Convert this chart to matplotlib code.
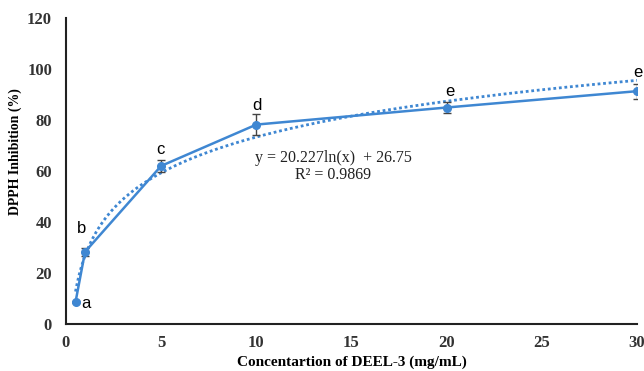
import numpy as np
import matplotlib
matplotlib.use("Agg")
import matplotlib.pyplot as plt

conc = [0.5, 1, 5, 10, 20, 30]
inhib = [8.6, 28.3, 62.0, 78.2, 84.9, 91.3]
err = [0.5, 1.5, 2.2, 4.0, 2.0, 3.0]
letters = ["a", "b", "c", "d", "e", "e"]
fit_a, fit_b = 20.227, 26.75

blue = "#3f87d2"
fig = plt.figure(figsize=(6.44, 3.71), dpi=100)
ax = fig.add_axes([66/644, 1-324/371, (637-66)/644, (324-18)/371])

xs = np.linspace(0.5, 30, 300)
ax.plot(xs, fit_a*np.log(xs)+fit_b, linestyle=(0, (1, 1)), color=blue, lw=2.0, zorder=2)
ax.errorbar(conc, inhib, yerr=err, fmt="none", ecolor="#444444", elinewidth=1, capsize=3, capthick=1, zorder=3)
ax.plot(conc, inhib, "-o", color=blue, lw=1.8, ms=5.5, zorder=4)

offsets = [(0.3, -0.5), (-0.2, 9.3), (-0.05, 6.3), (0.05, 7.5), (0.15, 6.2), (0.05, 7.5)]
for x, y, l, (dx, dy) in zip(conc, inhib, letters, offsets):
    ha = "left" if l == "a" else "center"
    ax.text(x+dx, y+dy, l, fontsize=12, family="Liberation Sans", ha=ha, va="center")

ax.text(0.4676, 0.542, "y = 20.227ln(x)  + 26.75", transform=ax.transAxes, fontsize=11.5,
        family="Liberation Serif", ha="center", va="center", color="#222222")
ax.text(0.4676, 0.487, "R² = 0.9869", transform=ax.transAxes, fontsize=11.5,
        family="Liberation Serif", ha="center", va="center", color="#222222")

ax.set_xlim(0, 30)
ax.set_ylim(0, 120)
ax.set_xticks([0, 5, 10, 15, 20, 25, 30])
ax.set_yticks(range(0, 121, 20))
for s in ["top", "right"]:
    ax.spines[s].set_visible(False)
for s in ["left", "bottom"]:
    ax.spines[s].set_linewidth(1.5)
    ax.spines[s].set_color("#222222")
ax.tick_params(axis="y", length=0, pad=10)
ax.tick_params(axis="x", length=0, pad=8)
for lab in ax.get_xticklabels() + ax.get_yticklabels():
    lab.set_fontfamily("Liberation Serif")
    lab.set_fontweight("bold")
    lab.set_fontsize(12)
    lab.set_color("#333333")
ax.set_ylabel("DPPH Inhibition (%)", fontfamily="Liberation Serif", fontweight="bold", fontsize=10)
ax.yaxis.set_label_coords(-0.077, 1 - (152-18)/306)
ax.set_xlabel("Concentartion of DEEL-3 (mg/mL)", fontfamily="Liberation Serif", fontweight="bold", fontsize=11, labelpad=3)

fig.savefig("out.png", dpi=100)
